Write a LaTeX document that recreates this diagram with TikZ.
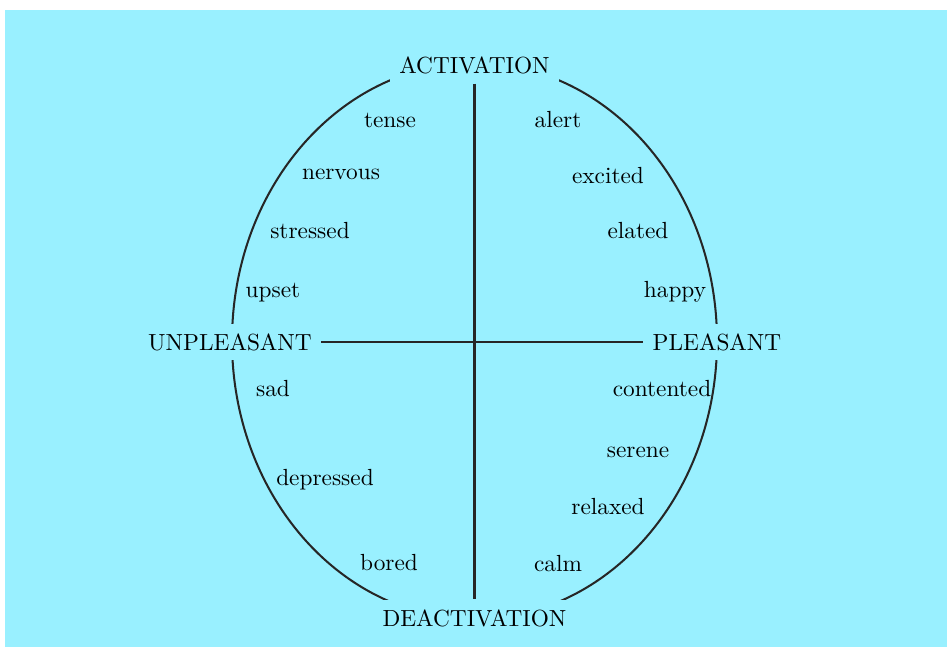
\documentclass[tikz,border=0pt]{standalone}
\begin{document}
\begin{tikzpicture}[x=0.444pt, y=-0.444pt,
  axislabel/.style={fill=bgcyan, inner xsep=4pt, inner ysep=4.3pt, font=\fontsize{10.35}{12}\selectfont},
  mood/.style={anchor=base, inner sep=0pt, font=\fontsize{10.35}{12}\selectfont},
  axisline/.style={line width=0.9pt, draw=black!85}]
\definecolor{bgcyan}{RGB}{153,240,255}
% page and background
\useasboundingbox (0,0) rectangle (947,647);
\fill[white] (0,0) rectangle (947,647);
\fill[bgcyan] (5,10) rectangle (947,647);
% circumplex outline
\draw[axisline] (474.5,341) ellipse [x radius=242.5, y radius=278];
% axis labels
\node[axislabel] (act) at (474.5,65) {ACTIVATION};
\node[axislabel] (deact) at (474.5,618) {DEACTIVATION};
\node[axislabel] (unp) at (230,342) {UNPLEASANT};
\node[axislabel] (pls) at (717,342) {PLEASANT};
\draw[axisline] (act) -- (deact);
\draw[axisline] (unp) -- (pls);
% affect words, activated unpleasant
\node[mood] (tense) at (390,128) {tense};
\node[mood] (nervous) at (341,180) {nervous};
\node[mood] (stressed) at (310,239) {stressed};
\node[mood] (upset) at (273,298) {upset};
% activated pleasant
\node[mood] (alert) at (558,128) {alert};
\node[mood] (excited) at (608,184) {excited};
\node[mood] (elated) at (638,239) {elated};
\node[mood] (happy) at (675,298) {happy};
% deactivated unpleasant
\node[mood] (sad) at (273,397) {sad};
\node[mood] (depressed) at (325,486) {depressed};
\node[mood] (bored) at (389,571) {bored};
% deactivated pleasant
\node[mood] (contented) at (662,397) {contented};
\node[mood] (serene) at (638,458) {serene};
\node[mood] (relaxed) at (608,515) {relaxed};
\node[mood] (calm) at (558,572) {calm};
\end{tikzpicture}
\end{document}
